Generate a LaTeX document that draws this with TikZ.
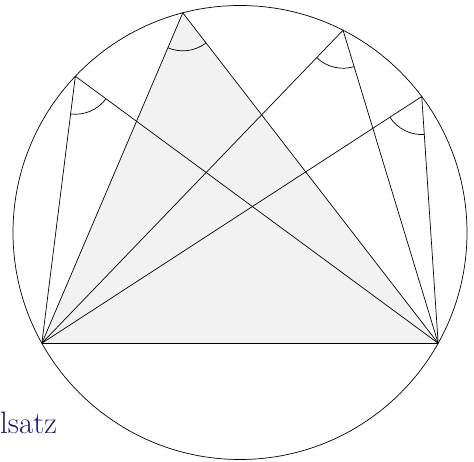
\documentclass[tikz,border=0pt]{standalone}
\usetikzlibrary{calc,angles}
\definecolor{titleblue}{RGB}{28,24,112}
\begin{document}
\begin{tikzpicture}[x=1pt,y=1pt,
  thinline/.style={line width=0.7pt,black},
  anglearc/.style={draw,line width=0.7pt,angle radius=38pt},
  label text/.style={anchor=base west,inner sep=0pt,text=titleblue,font=\fontsize{31}{37}\selectfont}]
\useasboundingbox (0,0) rectangle (474,461);
\coordinate (O) at (240,228.5);
\coordinate (A) at ($(O)+(209.2:227)$);
\coordinate (B) at ($(O)+(330.8:227)$);
\coordinate (C) at ($(O)+(104.6:227)$);
\coordinate (D) at ($(O)+(136.5:227)$);
\coordinate (E) at ($(O)+(63.0:227)$);
\coordinate (F) at ($(O)+(36.8:227)$);
\fill[black!5] (A) -- (C) -- (B) -- cycle;
\draw[thinline] (O) circle[radius=227];
\draw[thinline] (A) -- (B);
\foreach \P in {C,D,E,F}{
  \draw[thinline] (A) -- (\P) -- (B);
  \pic[anglearc] {angle = A--\P--B};
}
\node[label text] (title) at (0,28) {lsatz};
\end{tikzpicture}
\end{document}
